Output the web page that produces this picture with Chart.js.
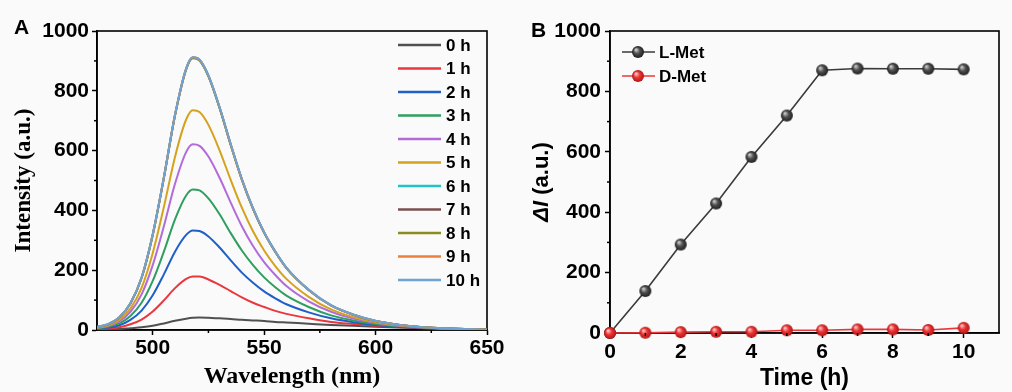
<!DOCTYPE html>
<html><head><meta charset="utf-8">
<script src="https://cdn.jsdelivr.net/npm/chart.js@4.4.1/dist/chart.umd.min.js"></script>
<style>
html,body{margin:0;padding:0;background:#fafafa;}
#wrap{position:relative;width:1012px;height:392px;background:#fafafa;}
canvas{position:absolute;top:0;}
#ca{left:0;} #cb{left:506px;}
</style></head><body>
<div id="wrap"><canvas id="ca" width="506" height="392"></canvas><canvas id="cb" width="506" height="392"></canvas></div>
<script>
// ---------- Panel A data ----------
const wavelength = [475,480,485,490,495,500,505,510,515,518,521,525,530,535,540,545,550,555,560,570,580,590,600,610,620,630,640,650];
const int0h  = [1,2,3,6,9,14,22,31,38,41,42,41,39,37,34,32,30,27,25,21,17,14,11,8,6,4,2,1];
const int1h  = [2,5,9,19,35,62,99,140,171,179,179,169,151,130,109,91,77,64,54,39,27,20,14,10,7,4,2,1];
const int2h  = [4,8,16,34,65,116,186,262,318,333,331,313,276,233,192,158,129,106,86,59,39,26,17,11,8,5,2,1];
const int3h  = [5,11,22,47,91,164,262,370,450,470,467,440,387,324,266,217,176,143,115,77,49,32,20,13,8,5,2,1];
const int4h  = [7,14,29,61,119,217,347,489,595,621,616,580,509,426,347,281,227,184,147,96,61,38,24,14,9,5,3,1];
const int5h  = [8,16,34,72,141,257,411,579,704,735,729,686,601,502,409,330,266,214,171,111,69,43,26,16,10,5,3,1];
const int6h  = [10,19,42,89,174,318,508,717,871,909,901,848,742,619,503,405,325,261,207,134,82,51,30,18,10,6,3,1];
const int7h  = [10,19,42,89,174,318,509,718,873,911,903,850,744,620,504,406,326,262,208,134,82,51,30,18,10,6,3,1];
const int8h  = [10,19,42,89,174,318,509,718,872,910,902,849,743,619,503,406,325,262,207,134,82,51,30,18,10,6,3,1];
const int9h  = [10,19,42,89,175,319,510,719,874,912,904,851,745,621,504,407,326,262,208,134,82,51,30,18,10,6,3,1];
const int10h = [11,20,43,90,176,320,511,720,875,912,905,852,746,622,505,408,327,263,209,135,83,52,31,18,10,6,3,1];
const seriesLabels = ['0 h','1 h','2 h','3 h','4 h','5 h','6 h','7 h','8 h','9 h','10 h'];
const seriesColors = ['#505050','#e8383d','#1e5fc8','#2f9e5f','#b36bd9','#d4a21c','#22c3c8','#7b4f4f','#8c8c1e','#ec7f3c','#6ea3d3'];
const xTicksA = [500,550,600,650];
const xMinorA = [525,575,625];
const yTicksA = [0,200,400,600,800,1000];
const yMinorA = [100,300,500,700,900];

// ---------- Panel B data ----------
const timeH = [0,1,2,3,4,5,6,7,8,9,10];
const lMet = [0,139,293,429,583,720,870,876,875,875,873];
const dMet = [0,1,3,4,4,9,9,12,12,10,17];
const xTicksB = [0,2,4,6,8,10];
const xMinorB = [1,3,5,7,9];
const yTicksB = [0,200,400,600,800,1000];
const yMinorB = [100,300,500,700,900];

const SANS = '"Liberation Sans", Arial, sans-serif';
const SERIF = '"Liberation Serif", "Times New Roman", serif';

function makeSphere(dark, mid, light, r) {
  const c = document.createElement('canvas');
  c.width = 2*r+2; c.height = 2*r+2;
  const g = c.getContext('2d');
  const cx = r+1, cy = r+1;
  const grad = g.createRadialGradient(cx - r*0.35, cy - r*0.4, r*0.1, cx, cy, r);
  grad.addColorStop(0, light);
  grad.addColorStop(0.45, mid);
  grad.addColorStop(1, dark);
  g.fillStyle = grad;
  g.beginPath(); g.arc(cx, cy, r, 0, Math.PI*2); g.fill();
  return c;
}
const graySphere = makeSphere('#1e1e1e', '#505050', '#c8c8c8', 6);
const redSphere = makeSphere('#b01515', '#ec3434', '#ffc0c0', 6);

const frame = {
  id: 'frame',
  beforeDatasetsDraw(chart) {
    const a = chart.chartArea, ctx = chart.ctx;
    ctx.save(); ctx.strokeStyle = '#000'; ctx.lineWidth = 1.6;
    ctx.strokeRect(a.left, a.top, a.right - a.left, a.bottom - a.top);
    ctx.restore();
  }
};
const minorTicks = {
  id: 'minorTicks',
  afterDraw(chart, args, opts) {
    const ctx = chart.ctx, a = chart.chartArea, sx = chart.scales.x, sy = chart.scales.y;
    ctx.save(); ctx.strokeStyle = '#000'; ctx.lineWidth = 1.5;
    (opts.x || []).forEach(v => { const p = sx.getPixelForValue(v); ctx.beginPath(); ctx.moveTo(p, a.bottom); ctx.lineTo(p, a.bottom + 3); ctx.stroke(); });
    (opts.y || []).forEach(v => { const p = sy.getPixelForValue(v); ctx.beginPath(); ctx.moveTo(a.left, p); ctx.lineTo(a.left - 3, p); ctx.stroke(); });
    ctx.restore();
  }
};
const annot = {
  id: 'annot',
  afterDraw(chart, args, opts) {
    const ctx = chart.ctx;
    ctx.save();
    (opts.texts || []).forEach(t => {
      ctx.font = t.font; ctx.fillStyle = '#000'; ctx.textBaseline = 'alphabetic'; ctx.textAlign = 'left';
      ctx.fillText(t.text, t.x, t.y);
    });
    ctx.restore();
  }
};
const legendA = {
  id: 'legendA',
  afterDraw(chart) {
    const ctx = chart.ctx;
    ctx.save();
    chart.data.datasets.forEach((ds, i) => {
      const y = 45 + i * 23.5;
      ctx.strokeStyle = ds.borderColor; ctx.lineWidth = 2.5;
      ctx.beginPath(); ctx.moveTo(398, y); ctx.lineTo(441, y); ctx.stroke();
      ctx.font = 'bold 17px ' + SANS; ctx.fillStyle = '#000'; ctx.textBaseline = 'middle';
      ctx.fillText(ds.label, 446, y + 1);
    });
    ctx.restore();
  }
};
const legendB = {
  id: 'legendB',
  afterDraw(chart) {
    const ctx = chart.ctx;
    ctx.save();
    chart.data.datasets.forEach((ds, i) => {
      const y = 52 + i * 24;
      ctx.strokeStyle = ds.borderColor; ctx.lineWidth = 1.6;
      ctx.beginPath(); ctx.moveTo(116, y); ctx.lineTo(149, y); ctx.stroke();
      const img = ds.pointStyle;
      ctx.drawImage(img, 132 - img.width/2, y - img.height/2);
      ctx.font = 'bold 17px ' + SANS; ctx.fillStyle = '#000'; ctx.textBaseline = 'middle';
      ctx.fillText(ds.label, 153, y + 1);
    });
    ctx.restore();
  }
};

const tickFont = { family: SANS, weight: 'bold', size: 21 };
const gridOpts = { drawOnChartArea: false, drawTicks: true, tickLength: 5, tickColor: '#000', tickWidth: 1.5 };
const plain = v => String(v);

const seriesData = [int0h,int1h,int2h,int3h,int4h,int5h,int6h,int7h,int8h,int9h,int10h];
new Chart(document.getElementById('ca'), {
  type: 'line',
  data: {
    datasets: seriesData.map((arr, i) => ({
      label: seriesLabels[i],
      data: arr.map((v, j) => ({ x: wavelength[j], y: v })),
      borderColor: seriesColors[i], borderWidth: 2, pointRadius: 0,
      cubicInterpolationMode: 'monotone', fill: false, order: 10 - i
    }))
  },
  options: {
    responsive: false, animation: false, devicePixelRatio: 1,
    layout: { padding: { top: 31, right: 19, left: 0, bottom: 0 } },
    plugins: { legend: { display: false }, tooltip: { enabled: false },
      minorTicks: { x: xMinorA, y: yMinorA },
      annot: { texts: [ { text: 'A', x: 14, y: 34, font: 'bold 21px ' + SANS } ] } },
    scales: {
      x: { type: 'linear', min: 475, max: 650,
        afterBuildTicks: s => { s.ticks = xTicksA.map(v => ({ value: v })); },
        afterFit: s => { s.height = 62; },
        grid: gridOpts, border: { display: true, color: '#000', width: 1.6 },
        ticks: { font: tickFont, color: '#000', padding: 1, maxRotation: 0, callback: plain },
        title: { display: true, text: 'Wavelength (nm)', color: '#000', font: { family: SERIF, weight: 'bold', size: 24 }, padding: { top: 0, bottom: 1 } } },
      y: { type: 'linear', min: 0, max: 1000,
        afterBuildTicks: s => { s.ticks = yTicksA.map(v => ({ value: v })); },
        afterFit: s => { s.width = 97; },
        grid: gridOpts, border: { display: true, color: '#000', width: 1.6 },
        ticks: { font: tickFont, color: '#000', padding: 3, callback: plain },
        title: { display: true, text: 'Intensity (a.u.)', color: '#000', font: { family: SERIF, weight: 'bold', size: 23 }, padding: { top: 10, bottom: 0 } } }
    }
  },
  plugins: [frame, minorTicks, annot, legendA]
});

new Chart(document.getElementById('cb'), {
  type: 'line',
  data: {
    datasets: [
      { label: 'L-Met', data: timeH.map((t, i) => ({ x: t, y: lMet[i] })), borderColor: '#3a3a3a', borderWidth: 1.6,
        pointStyle: graySphere, pointRadius: 6, clip: false, order: 1 },
      { label: 'D-Met', data: timeH.map((t, i) => ({ x: t, y: dMet[i] })), borderColor: '#e8383d', borderWidth: 1.6,
        pointStyle: redSphere, pointRadius: 6, clip: false, order: 0 }
    ]
  },
  options: {
    responsive: false, animation: false, devicePixelRatio: 1,
    layout: { padding: { top: 31, right: 13, left: 0, bottom: 0 } },
    plugins: { legend: { display: false }, tooltip: { enabled: false },
      minorTicks: { x: xMinorB, y: yMinorB },
      annot: { texts: [ { text: 'B', x: 25, y: 37, font: 'bold 21px ' + SANS } ] } },
    scales: {
      x: { type: 'linear', min: 0, max: 11,
        afterBuildTicks: s => { s.ticks = xTicksB.map(v => ({ value: v })); },
        afterFit: s => { s.height = 59; },
        grid: gridOpts, border: { display: true, color: '#000', width: 1.6 },
        ticks: { font: tickFont, color: '#000', padding: 2, maxRotation: 0, callback: plain },
        title: { display: true, text: 'Time (h)', color: '#000', font: { family: SANS, weight: 'bold', size: 23 }, padding: { top: 0, bottom: 0 } } },
      y: { type: 'linear', min: 0, max: 1000,
        afterBuildTicks: s => { s.ticks = yTicksB.map(v => ({ value: v })); },
        afterFit: s => { s.width = 104; },
        grid: gridOpts, border: { display: true, color: '#000', width: 1.6 },
        ticks: { font: tickFont, color: '#000', padding: 4, callback: plain },
        title: { display: false } }
    }
  },
  plugins: [frame, minorTicks, annot, legendB, {
    id: 'yTitleB',
    afterDraw(chart) {
      const ctx = chart.ctx, a = chart.chartArea;
      ctx.save();
      ctx.translate(36, (a.top + a.bottom) / 2);
      ctx.rotate(-Math.PI / 2);
      ctx.fillStyle = '#000'; ctx.textBaseline = 'middle';
      const f1 = 'italic bold 22px ' + SANS, f2 = 'bold 22px ' + SANS;
      ctx.font = f1; const w1 = ctx.measureText('ΔI').width;
      ctx.font = f2; const w2 = ctx.measureText(' (a.u.)').width;
      const start = -(w1 + w2) / 2;
      ctx.font = f1; ctx.fillText('ΔI', start, 0);
      ctx.font = f2; ctx.fillText(' (a.u.)', start + w1, 0);
      ctx.restore();
    }
  }]
});
</script>
</body></html>
